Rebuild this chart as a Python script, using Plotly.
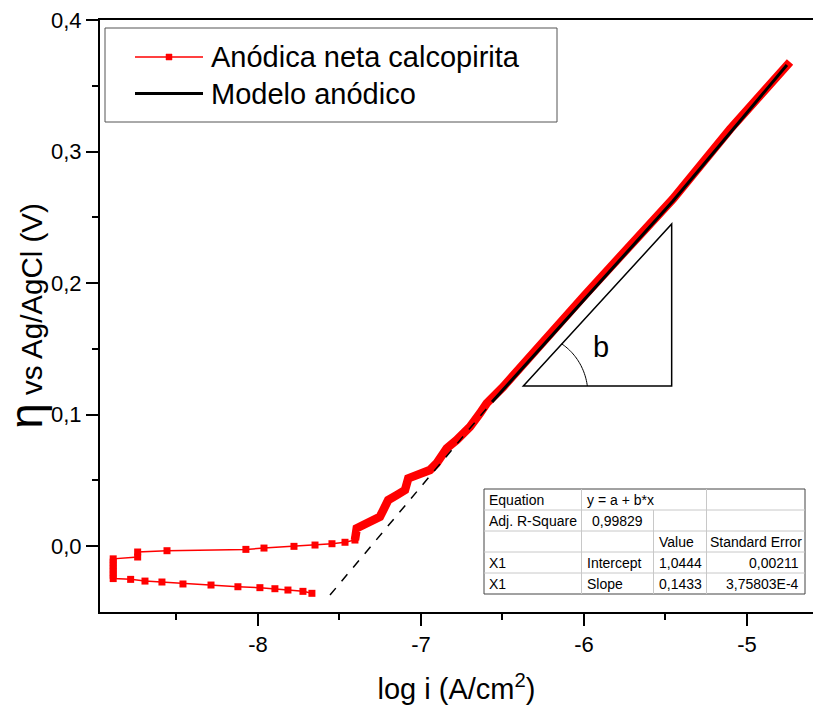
import plotly.graph_objects as go
import numpy as np

# ---------------- data ----------------
# sparse part of the measured curve: lower branch (right -> left), vertical bar, upper branch
meas_x = [-7.669, -7.724, -7.816, -7.896, -7.988, -8.123, -8.288, -8.460, -8.589, -8.693, -8.781,
          -8.888, -8.888, -8.888, -8.888, -8.888, -8.888, -8.888,
          -8.738, -8.738, -8.558, -8.074, -7.963, -7.779, -7.650, -7.546, -7.466, -7.405]
meas_y = [-0.0358, -0.0343, -0.0333, -0.0323, -0.0315, -0.0308, -0.0295, -0.0287, -0.0272, -0.0265, -0.0252,
          -0.0246, -0.0221, -0.0196, -0.0171, -0.0146, -0.0121, -0.0096,
          -0.0082, -0.0044, -0.0034, -0.0024, -0.0014, -0.0001, 0.0009, 0.0019, 0.0030, 0.0047]
# dense (thick) part of the measured curve
dense_x = [-7.405, -7.394, -7.354, -7.252, -7.231, -7.201, -7.149, -7.098, -7.078, -7.026, -6.945,
           -6.904, -6.842, -6.781, -6.699, -6.638, -6.597, -6.495, -6.352, -5.994, -5.454, -5.104, -4.736]
dense_y = [0.0047, 0.0136, 0.0161, 0.0224, 0.0275, 0.0351, 0.0389, 0.0427, 0.0516, 0.0541, 0.0579,
           0.0630, 0.0744, 0.0807, 0.0908, 0.1010, 0.1086, 0.1212, 0.1415, 0.1910, 0.2640, 0.3170, 0.3681]
# anodic model (solid) and its extrapolation (dashed)
model_x = [-6.564, -5.994, -5.454, -4.755]
model_y = [0.1096, 0.1879, 0.2624, 0.3658]
extrap_x = [-7.558, -6.564]
extrap_y = [-0.0371, 0.1096]

# slope triangle (data coords)
tri_x = [-6.372, -5.462]
tri_y = [0.1218, 0.2449]

x_ticks = [-8, -7, -6, -5]
y_ticks = [0.0, 0.1, 0.2, 0.3, 0.4]

legend_names = ["Anódica neta calcopirita", "Modelo anódico"]

table_rows = [
    ["Equation", "y = a + b*x", "", ""],
    ["Adj. R-Square", "0,99829", "", ""],
    ["", "", "Value", "Standard Error"],
    ["X1", "Intercept", "1,0444", "0,00211"],
    ["X1", "Slope", "0,1433", "3,75803E-4"],
]

# ---------------- layout geometry ----------------
W, H = 813, 709
L, R, T, B = 100, 0, 20, 97
PW, PH = W - L - R, H - T - B
FONT = "Arial, Liberation Sans, sans-serif"
RED = "#ff0000"


def px(xp):
    return (xp - L) / PW


def py(yp):
    return (H - B - yp) / PH


fig = go.Figure()

fig.add_trace(go.Scatter(x=meas_x, y=meas_y, mode="lines+markers",
                         line=dict(color=RED, width=1.5),
                         marker=dict(symbol="square", size=7, color=RED),
                         name=legend_names[0], showlegend=False))
fig.add_trace(go.Scatter(x=dense_x, y=dense_y, mode="lines",
                         line=dict(color=RED, width=8.5),
                         showlegend=False, hoverinfo="skip"))
fig.add_trace(go.Scatter(x=extrap_x, y=extrap_y, mode="lines",
                         line=dict(color="black", width=1.5, dash="dash"),
                         showlegend=False))
fig.add_trace(go.Scatter(x=model_x, y=model_y, mode="lines",
                         line=dict(color="black", width=3),
                         name=legend_names[1], showlegend=False))

shapes = []
annotations = []

# slope triangle
shapes.append(dict(type="path", xref="x", yref="y",
                   path=f"M {tri_x[0]},{tri_y[0]} L {tri_x[1]},{tri_y[0]} L {tri_x[1]},{tri_y[1]} Z",
                   line=dict(color="black", width=1.5)))
# angle arc
x_per_px = (-4.595 - -8.969) / PW
y_per_px = 0.45 / PH
ang = np.arctan2((tri_y[1] - tri_y[0]) / y_per_px, (tri_x[1] - tri_x[0]) / x_per_px)
ts = np.linspace(0, ang, 30)
rs = np.linspace(64, 57, 30)
pts = [(tri_x[0] + r * np.cos(t) * x_per_px, tri_y[0] + r * np.sin(t) * y_per_px) for r, t in zip(rs, ts)]
path = "M " + " L ".join(f"{a},{b}" for a, b in pts)
shapes.append(dict(type="path", xref="x", yref="y", path=path, line=dict(color="black", width=1)))
annotations.append(dict(x=-5.896, y=0.1512, xref="x", yref="y", text="b", showarrow=False,
                        font=dict(family=FONT, size=29, color="black")))

# manual legend
shapes.append(dict(type="rect", xref="paper", yref="paper", x0=px(105), x1=px(557), y0=py(28), y1=py(122),
                   line=dict(color="#555555", width=1), fillcolor="white", layer="below"))
shapes.append(dict(type="line", xref="paper", yref="paper", x0=px(135), x1=px(203), y0=py(57), y1=py(57),
                   line=dict(color=RED, width=1.5)))
shapes.append(dict(type="rect", xref="paper", yref="paper", x0=px(166), x1=px(172), y0=py(54), y1=py(60),
                   line=dict(color=RED, width=0.5), fillcolor=RED))
shapes.append(dict(type="line", xref="paper", yref="paper", x0=px(135), x1=px(203), y0=py(93.5), y1=py(93.5),
                   line=dict(color="black", width=3)))
for name, yc in zip(legend_names, [57, 94]):
    annotations.append(dict(x=px(209), y=py(yc), xref="paper", yref="paper", text=name, showarrow=False,
                            xanchor="left", yanchor="middle", font=dict(family=FONT, size=29, color="black")))

# fit table
cols = [484, 581.5, 653.5, 706.5, 805]
rows = [489, 510, 531, 552, 573, 594]
shapes.append(dict(type="rect", xref="paper", yref="paper", x0=px(cols[0]), x1=px(cols[-1]),
                   y0=py(rows[0]), y1=py(rows[-1]), line=dict(color="#444444", width=1), fillcolor="white"))
for r in rows[1:-1]:
    shapes.append(dict(type="line", xref="paper", yref="paper", x0=px(cols[0]), x1=px(cols[-1]),
                       y0=py(r), y1=py(r), line=dict(color="#c8c8c8", width=1)))
for ci, c in enumerate(cols[1:-1], start=1):
    for ri in range(len(rows) - 1):
        if ci == 2 and ri == 0:
            continue
        shapes.append(dict(type="line", xref="paper", yref="paper", x0=px(c), x1=px(c),
                           y0=py(rows[ri]), y1=py(rows[ri + 1]), line=dict(color="#c8c8c8", width=1)))
for ri, row in enumerate(table_rows):
    yc = (rows[ri] + rows[ri + 1]) / 2
    for ci, txt in enumerate(row):
        if not txt:
            continue
        if ci == 3 and ri >= 3:
            xa, xx = "right", cols[4] - 4
        elif ci == 3:
            xa, xx = "center", (cols[3] + cols[4]) / 2
        elif ri == 1 and ci == 1:
            xa, xx = "center", (cols[1] + cols[2]) / 2
        else:
            xa, xx = "left", cols[ci] + 3
        annotations.append(dict(x=px(xx), y=py(yc), xref="paper", yref="paper", text=txt, showarrow=False,
                                xanchor=xa, yanchor="middle", font=dict(family=FONT, size=14, color="black")))

fig.update_layout(
    width=W, height=H,
    margin=dict(l=L, r=R, t=T, b=B, pad=0),
    paper_bgcolor="white", plot_bgcolor="white",
    separators=",.",
    showlegend=False,
    shapes=shapes, annotations=annotations,
    font=dict(family=FONT, color="black"),
    xaxis=dict(range=[-8.969, -4.595], tickvals=x_ticks, ticktext=[str(v) for v in x_ticks],
               showgrid=False, zeroline=False, showline=True, linecolor="black", linewidth=2,
               mirror=True, ticks="outside", ticklen=12, tickwidth=1.5, tickcolor="black",
               tickfont=dict(size=22, family=FONT),
               minor=dict(tickvals=[-8.5, -7.5, -6.5, -5.5], ticks="outside", ticklen=6, tickwidth=1.5,
                          tickcolor="black"),
               title=dict(text="log i (A/cm<sup>2</sup>)", font=dict(size=29, family=FONT), standoff=22)),
    yaxis=dict(range=[-0.05, 0.4], tickvals=y_ticks, tickformat=".1f",
               showgrid=False, zeroline=False, showline=True, linecolor="black", linewidth=2,
               ticks="outside", ticklen=12, tickwidth=1.5, tickcolor="black",
               tickfont=dict(size=22, family=FONT),
               minor=dict(tickvals=[0.05, 0.15, 0.25, 0.35], ticks="outside", ticklen=6, tickwidth=1.5,
                          tickcolor="black"),
               title=dict(text='<span style="font-size:46px">η</span> vs Ag/AgCl (V)',
                          font=dict(size=29.5, family=FONT), standoff=4)),
)

fig.write_html("out.html")
